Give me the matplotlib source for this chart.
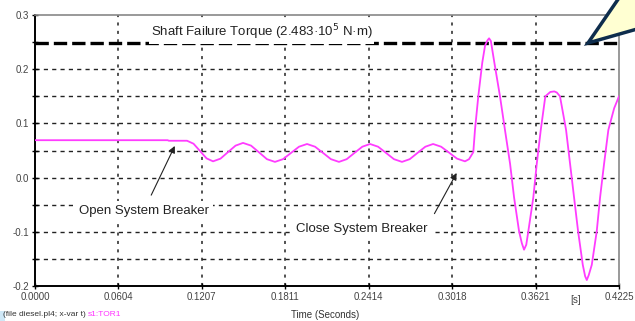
import matplotlib
matplotlib.use("Agg")
import matplotlib.pyplot as plt
from matplotlib.patches import Polygon, Rectangle

plt.rcParams['font.family'] = ['Liberation Sans', 'DejaVu Sans']

# shaft torque
time_s = [0.0, 0.0960, 0.0968, 0.1100, 0.1147, 0.1194, 0.1241, 0.1288, 0.1342, 0.1396,
          0.1451, 0.1505, 0.1563, 0.1621, 0.1678, 0.1736, 0.1794, 0.1852, 0.1910, 0.1968,
          0.2026, 0.2084, 0.2141, 0.2199, 0.2255, 0.2311, 0.2368, 0.2424, 0.2482, 0.2540,
          0.2597, 0.2655, 0.2711, 0.2767, 0.2824, 0.2880, 0.2938, 0.2996, 0.3053, 0.3111,
          0.3140, 0.3171, 0.3183, 0.3207, 0.3236, 0.3256, 0.3273, 0.3285, 0.3298, 0.3323,
          0.3364, 0.3400, 0.3437, 0.3466, 0.3502, 0.3522, 0.3538, 0.3554, 0.3569, 0.3605,
          0.3630, 0.3659, 0.3692, 0.3728, 0.3757, 0.3775, 0.3798, 0.3842, 0.3871, 0.3900,
          0.3929, 0.3963, 0.3980, 0.3992, 0.4006, 0.4028, 0.4064, 0.4088, 0.4117, 0.4148,
          0.4190, 0.4225]
torque = [0.069, 0.069, 0.068, 0.068, 0.0625, 0.049, 0.0355, 0.030, 0.035, 0.047,
          0.059, 0.064, 0.059, 0.0465, 0.034, 0.029, 0.034, 0.0455, 0.057, 0.062,
          0.057, 0.0455, 0.034, 0.029, 0.034, 0.0455, 0.057, 0.062, 0.057, 0.0455,
          0.034, 0.029, 0.034, 0.0455, 0.057, 0.062, 0.057, 0.046, 0.035, 0.030,
          0.034, 0.047, 0.088, 0.150, 0.2125, 0.2436, 0.253, 0.257, 0.252, 0.2125,
          0.150, 0.088, 0.0255, -0.0368, -0.099, -0.121, -0.133, -0.124, -0.099, -0.0368,
          0.0255, 0.088, 0.150, 0.158, 0.159, 0.157, 0.150, 0.088, 0.0255, -0.0368,
          -0.099, -0.161, -0.182, -0.189, -0.180, -0.161, -0.099, -0.0368, 0.0255, 0.088,
          0.128, 0.150]

failure_torque = 0.2483
x_ticks = [0.0, 0.0604, 0.1207, 0.1811, 0.2414, 0.3018, 0.3621, 0.4225]
x_labels = ['0.0000', '0.0604', '0.1207', '0.1811', '0.2414', '0.3018', '0.3621', '0.4225']
y_ticks = [-0.2, -0.1, 0.0, 0.1, 0.2, 0.3]
y_labels = ['-0.2', '-0.1', '0.0', '0.1', '0.2', '0.3']
y_grid = [-0.15, -0.1, -0.05, 0.0, 0.05, 0.1, 0.15, 0.2]

fig = plt.figure(figsize=(6.35, 3.21), dpi=100)
ax = fig.add_axes([35 / 635, 35 / 321, 584 / 635, 271 / 321])
ax.set_xlim(0, 0.4225)
ax.set_ylim(-0.2, 0.3)

# grid
for gy in y_grid:
    ax.axhline(gy, color='#222222', lw=1.0, ls=(0, (3, 3)), zorder=1)
for gx in x_ticks[1:-1]:
    ax.axvline(gx, color='#222222', lw=1.1, ls=(0, (2, 3.5)), zorder=1)

ax.axhline(failure_torque, color='black', lw=2.4, ls=(0, (4, 1.5)), zorder=2)
ax.plot(time_s, torque, color='#ff3cff', lw=1.3, zorder=3, solid_joinstyle='round')

txt = dict(fontsize=9.5, color='#222222', zorder=4)
ax.text(0.164, 0.268, 'Shaft Failure Torque (2.483\u00b710$^5$ N\u00b7m)', ha='center', va='center',
        bbox=dict(facecolor='white', edgecolor='none', pad=1), **txt)
ax.annotate('', xy=(0.102, 0.063), xytext=(0.0832, -0.037),
            arrowprops=dict(arrowstyle='-|>', color='#222222', lw=0.8, mutation_scale=10), zorder=5)
ax.annotate('', xy=(0.306, 0.013), xytext=(0.288, -0.071),
            arrowprops=dict(arrowstyle='-|>', color='#222222', lw=0.8, mutation_scale=10), zorder=5)
ax.text(0.0789, -0.062, 'Open System Breaker', ha='center', va='center',
        bbox=dict(facecolor='white', edgecolor='none', pad=3), **txt)
ax.text(0.2366, -0.095, 'Close System Breaker', ha='center', va='center',
        bbox=dict(facecolor='white', edgecolor='none', pad=3), **txt)

ax.set_xticks(x_ticks)
ax.set_xticklabels(x_labels)
ax.set_yticks(y_ticks)
ax.set_yticklabels(y_labels)
ax.set_yticks(y_grid[::2] + [0.25], minor=True)
ax.tick_params(axis='both', direction='inout', length=5, width=1, labelsize=7, labelcolor='#444444', pad=2)
ax.tick_params(axis='y', which='minor', direction='inout', length=5, width=1)
for s in ['left', 'bottom']:
    ax.spines[s].set_color('black')
    ax.spines[s].set_linewidth(1.4)
for s in ['top', 'right']:
    ax.spines[s].set_color('#888888')
    ax.spines[s].set_linewidth(1.2)

fig.text(576 / 635, 1 - 300 / 321, '[s]', fontsize=7, color='#444444', ha='center', va='center')
fig.add_artist(Rectangle((0, 0), 5 / 635, 10 / 321, transform=fig.transFigure,
                         facecolor='#cfe8f7', edgecolor='none'))
t1 = fig.text(3 / 635, 1 - 315 / 321, '(file diesel.pl4; x-var t) ', fontsize=6, color='#333333',
              ha='left', va='center')
fig.canvas.draw()
bb = t1.get_window_extent()
fig.text(bb.x1 / fig.bbox.width, 1 - 315 / 321, 's1:TOR1', fontsize=6, color='#ff33ff',
         ha='left', va='center')
fig.text(325 / 635, 1 / 321, 'Time (Seconds)', fontsize=7, color='#333333',
         ha='center', va='bottom')

# speech bubble corner
bubble = Polygon([(588 / 635, 1 - 43 / 321), (622 / 635, 1.02), (1.02, 1.02), (1.02, 1 - 26 / 321)],
                 closed=True, transform=fig.transFigure, facecolor='#ffffd2',
                 edgecolor='#0e2d4d', lw=2.5, zorder=10)
fig.add_artist(bubble)

fig.savefig('out.png', dpi=100)
